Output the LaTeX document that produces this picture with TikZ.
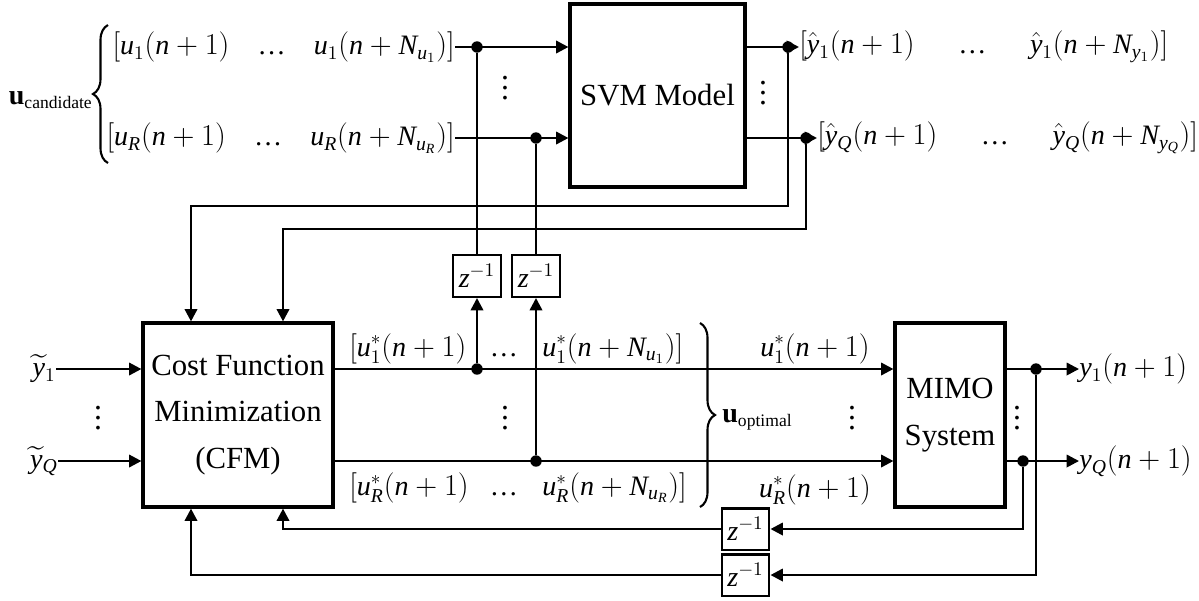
\documentclass[tikz,border=0pt]{standalone}
\usepackage{amsmath}
\usepackage{fontspec}
\setmainfont{Liberation Serif}
\DeclareSymbolFont{letters}{TU}{\rmdefault}{m}{it}
\newcommand{\hd}{\hspace{1em}\textnormal{\ldots}\hspace{1em}}
\newcommand{\hdw}{\hspace{1.55em}\textnormal{\ldots}\hspace{1.55em}}
\newcommand{\vdt}{\vbox{\fontsize{18}{6}\selectfont\baselineskip=5.8pt\lineskiplimit=-10pt\hbox{.}\hbox{.}\hbox{.}}}
\newcommand{\smallsub}[1]{\mbox{\fontsize{10}{11}\selectfont #1}}
\usetikzlibrary{arrows.meta,decorations.pathreplacing,calc}
\begin{document}
\begin{tikzpicture}[x=0.02cm,y=-0.02cm,
  font=\fontsize{16}{19}\selectfont,
  box/.style={draw,line width=1.8pt,inner sep=0pt,align=center,font=\fontsize{17.5}{26.5}\selectfont},
  zbox/.style={draw,line width=1.4pt,minimum width=0.95cm,minimum height=0.83cm,inner sep=0pt},
  wire/.style={line width=1.4pt},
  arr/.style={wire,-{Triangle[length=7pt,width=7pt]}},
  dot/.style={circle,fill,inner sep=0pt,minimum size=6.5pt},
  lbl/.style={inner sep=0pt},
  vd/.style={inner sep=0pt},
  brc/.style={line width=1.2pt,decorate,decoration={brace,amplitude=0.3cm}}]
\useasboundingbox (0,0) rectangle (1199,600);

% blocks
\node[box,minimum width=3.5cm,minimum height=3.66cm] (svm) at (657.5,95.5) {SVM Model};
\node[box,minimum width=3.8cm,minimum height=3.68cm] (cfm) at (238,415) {Cost Function\\Minimization\\(CFM)};
\node[box,minimum width=2.2cm,minimum height=3.68cm] (mimo) at (950,415) {MIMO\\System};
\node[zbox] (za) at (477,276) {$z^{-1}$};
\node[zbox] (zb) at (536,276) {$z^{-1}$};
\node[zbox] (zc) at (745.5,529) {$z^{-1}$};
\node[zbox] (zd) at (745.5,575) {$z^{-1}$};

% candidate inputs
\node[lbl,anchor=east] (uc1) at (455,47) {$[u_1(n+1)\hd u_1(n+N_{u_1})]$};
\node[lbl,anchor=east] (ucR) at (455,138) {$[u_R(n+1)\hd u_R(n+N_{u_R})]$};
\draw[brc] (108,163) -- (108,25);
\node[lbl,anchor=base east] (ucand) at (93,104) {$\mathbf{u}_{\smallsub{candidate}}$};
\node[vd] (vd1) at (505,88) {\vdt};

\node[dot] (d1) at (477,47) {};
\node[dot] (d2) at (536,138) {};
\draw[arr] (uc1.east) -- (uc1.east -| svm.west);
\draw[arr] (ucR.east) -- (ucR.east -| svm.west);
\draw[wire] (d1) -- (za.north);
\draw[wire] (d2) -- (zb.north);

% SVM outputs
\node[dot] (d3) at (788,47) {};
\node[dot] (d4) at (806,138) {};
\node[lbl,anchor=west] (yh1) at (799,47) {$[\hat{y}_1(n+1)\hdw\hat{y}_1(n+N_{y_1})]$};
\node[lbl,anchor=west] (yhQ) at (817,138) {$[\hat{y}_Q(n+1)\hdw\hat{y}_Q(n+N_{y_Q})]$};
\draw[arr] (svm.east |- d3) -- (yh1.west);
\draw[arr] (svm.east |- d4) -- (yhQ.west);
\node[vd] (vd2) at (763,93) {\vdt};
\coordinate (t1) at (191,206);
\coordinate (t2) at (283,229);
\draw[arr] (d3) |- (t1) -- (t1 |- cfm.north);
\draw[arr] (d4) |- (t2) -- (t2 |- cfm.north);

% CFM inputs
\node[lbl,anchor=east] (yt1) at (56,369) {$\widetilde{y}_1$};
\node[lbl,anchor=east] (ytQ) at (58,461) {$\widetilde{y}_Q$};
\draw[arr] (yt1.east) -- (cfm.west |- yt1.east);
\draw[arr] (ytQ.east) -- (cfm.west |- ytQ.east);
\node[vd] (vd3) at (98,418) {\vdt};

% CFM outputs
\node[dot] (d5) at (477,369) {};
\node[dot] (d6) at (536,461) {};
\draw[arr] (cfm.east |- d5) -- (mimo.west |- d5);
\draw[arr] (cfm.east |- d6) -- (mimo.west |- d6);
\draw[arr] (d5) -- (za.south);
\draw[arr] (d6) -- (zb.south);
\node[lbl,anchor=base west] (o1a) at (349,356) {$[u_1^*(n+1)$};
\node[lbl,anchor=base] (o1b) at (504,356) {\ldots};
\node[lbl,anchor=base west] (o1c) at (542,356) {$u_1^*(n+N_{u_1})]$};
\node[lbl,anchor=base west] (oRa) at (349,495) {$[u_R^*(n+1)$};
\node[lbl,anchor=base] (oRb) at (504,495) {\ldots};
\node[lbl,anchor=base west] (oRc) at (542,495) {$u_R^*(n+N_{u_R})]$};
\node[vd] (vd4) at (505,418) {\vdt};
\draw[brc] (700,323) -- (700,507);
\node[lbl,anchor=base west] (uopt) at (722,422) {$\mathbf{u}_{\smallsub{optimal}}$};
\node[lbl,anchor=base] (m1) at (815,356) {$u_1^*(n+1)$};
\node[lbl,anchor=base] (mR) at (815,497) {$u_R^*(n+1)$};
\node[vd] (vd5) at (852,418) {\vdt};

% MIMO outputs
\node[dot] (d7) at (1036,369) {};
\node[dot] (d8) at (1023,461) {};
\node[lbl,anchor=west] (y1) at (1079,369) {$y_1(n+1)$};
\node[lbl,anchor=west] (yQ) at (1079,461) {$y_Q(n+1)$};
\draw[arr] (mimo.east |- d7) -- (y1.west);
\draw[arr] (mimo.east |- d8) -- (yQ.west);
\node[vd] (vd6) at (1017,418) {\vdt};

% feedback
\coordinate (b1) at (191,575);
\coordinate (b2) at (283,529);
\draw[arr] (d8) |- (zc.east);
\draw[arr] (d7) |- (zd.east);
\draw[arr] (zc.west) -- (b2) -- (b2 |- cfm.south);
\draw[arr] (zd.west) -- (b1) -- (b1 |- cfm.south);
\end{tikzpicture}
\end{document}
